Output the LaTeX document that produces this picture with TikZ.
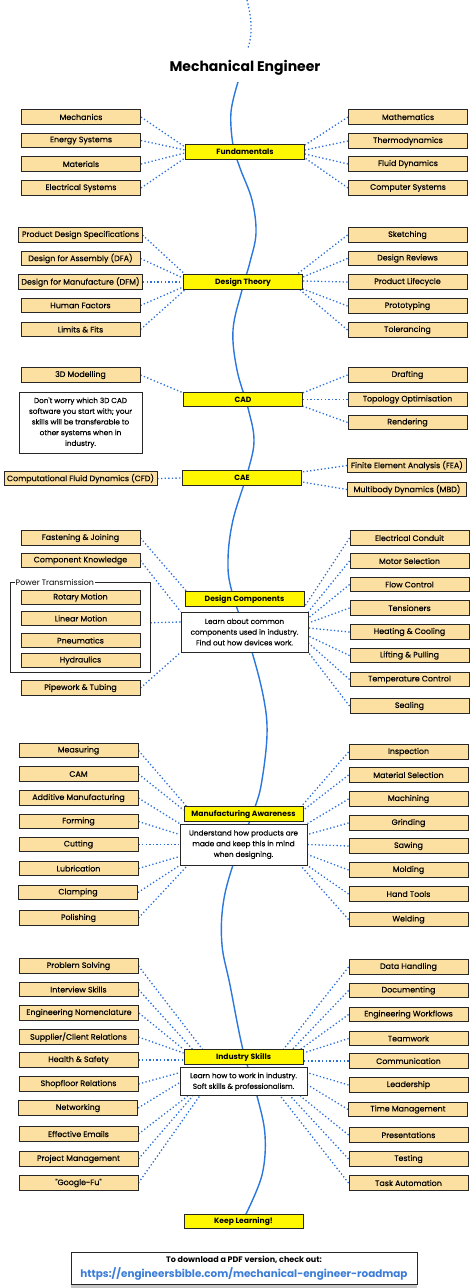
\documentclass[tikz,border=0pt]{standalone}
\usepackage{fontspec}
\setmainfont{Poppins}
\newfontfamily\itemfont{Poppins}[FakeBold=0.25]
\usetikzlibrary{backgrounds,calc}
\definecolor{boxtan}{HTML}{FCE0A2}
\definecolor{topicy}{HTML}{FFF700}
\definecolor{lblue}{HTML}{2B6FD8}
\definecolor{cblue}{HTML}{2A78DE}
\definecolor{urlblue}{HTML}{3B7DD8}
\newcommand\mylink[2]{\draw[link] (#1) -- (#2);}
\begin{document}
\begin{tikzpicture}[x=1pt,y=-1pt,
  item/.style={draw=black!85, line width=0.9pt, fill=boxtan, minimum width=119pt, minimum height=14.5pt, inner xsep=3pt, inner ysep=1pt, font=\itemfont\fontsize{7.9}{9}\selectfont},
  topic/.style={draw=black!85, line width=0.9pt, fill=topicy, minimum width=119pt, minimum height=14.5pt, inner sep=1pt, font=\fontsize{7.6}{9}\selectfont\bfseries},
  note/.style={draw=black!85, line width=0.9pt, fill=white, align=center, inner sep=1pt, font=\itemfont\fontsize{7.3}{10.7}\selectfont},
  link/.style={draw=lblue, line width=1.3pt, dash pattern=on 1.3pt off 2.3pt},
  spine/.style={draw=cblue, line width=1.4pt}
]
\useasboundingbox (0,0) rectangle (474,1288);

% title
\node[font=\fontsize{14}{16}\selectfont\bfseries] (title) at (245,68) {Mechanical Engineer};
\coordinate (topstart) at (247,0);
\coordinate (topend) at (248,48);

% ---------- Fundamentals
\node[topic] (fund) at (245,152) {Fundamentals};
\node[item] (mech) at (81,117) {Mechanics};
\node[item] (energy) at (81,140.5) {Energy Systems};
\node[item] (mat) at (81,164) {Materials};
\node[item] (elec) at (81,188) {Electrical Systems};
\node[item] (math) at (408,117) {Mathematics};
\node[item] (thermo) at (408,141) {Thermodynamics};
\node[item] (fluid) at (408,164) {Fluid Dynamics};
\node[item] (comp) at (408,188) {Computer Systems};

% ---------- Design Theory
\node[topic] (dt) at (243,282) {Design Theory};
\node[item] (pds) at (80.5,235) {Product Design Specifications};
\node[item] (dfa) at (80.5,258.5) {Design for Assembly (DFA)};
\node[item] (dfm) at (80.5,282) {Design for Manufacture (DFM)};
\node[item] (hf) at (80.5,305.5) {Human Factors};
\node[item] (lf) at (80.5,329.5) {Limits \& Fits};
\node[item] (sketch) at (407.5,235) {Sketching};
\node[item] (drev) at (407.5,258.5) {Design Reviews};
\node[item] (plc) at (407.5,282) {Product Lifecycle};
\node[item] (proto) at (407.5,306) {Prototyping};
\node[item] (tol) at (407.5,330) {Tolerancing};

% ---------- CAD
\node[topic] (cad) at (243,399.5) {CAD};
\node[item] (model) at (80.5,375) {3D Modelling};
\node[note, minimum width=123pt, minimum height=61pt] (cadnote) at (80.5,422.5) {Don't worry which 3D CAD\\software you start with; your\\skills will be transferable to\\other systems when in\\industry.};
\node[item] (draft) at (407.5,375) {Drafting};
\node[item] (topo) at (407.5,399.5) {Topology Optimisation};
\node[item] (render) at (407.5,422.5) {Rendering};

% ---------- CAE
\node[topic] (cae) at (242,478) {CAE};
\node[item] (cfd) at (80.5,478.5) {Computational Fluid Dynamics (CFD)};
\node[item] (fea) at (407,465.5) {Finite Element Analysis (FEA)};
\node[item] (mbd) at (407,489.5) {Multibody Dynamics (MBD)};

% ---------- Design Components
\node[topic] (dc) at (244.5,599) {Design Components};
\node[note, minimum width=127pt, minimum height=40pt] (dcnote) at (244.5,632) {Learn about common\\components used in industry.\\Find out how devices work.};
\node[item] (fast) at (80.5,538) {Fastening \& Joining};
\node[item] (ck) at (80.5,560.5) {Component Knowledge};
\node[draw=black!85, line width=0.9pt, minimum width=140pt, minimum height=90pt, inner sep=0pt] (pt) at (80,627.7) {};
\node[fill=white, inner sep=1pt, anchor=west, font=\fontsize{7.9}{9}\selectfont] (ptlabel) at ([xshift=5pt]pt.north west) {Power Transmission};
\node[item] (rot) at (80.5,597.5) {Rotary Motion};
\node[item] (lin) at (81,618.5) {Linear Motion};
\node[item] (pneu) at (80.5,640.5) {Pneumatics};
\node[item] (hyd) at (80.5,660.5) {Hydraulics};
\node[item] (pipe) at (80.5,688) {Pipework \& Tubing};
\node[item] (econd) at (409.5,538) {Electrical Conduit};
\node[item] (motor) at (409.5,561) {Motor Selection};
\node[item] (flow) at (409.5,584.5) {Flow Control};
\node[item] (tens) at (409.5,608) {Tensioners};
\node[item] (heat) at (409.5,632) {Heating \& Cooling};
\node[item] (lift) at (409.5,655.5) {Lifting \& Pulling};
\node[item] (temp) at (409.5,679.5) {Temperature Control};
\node[item] (seal) at (409.5,706) {Sealing};

% ---------- Manufacturing Awareness
\node[topic] (ma) at (243.5,814) {Manufacturing Awareness};
\node[note, minimum width=127pt, minimum height=41pt] (manote) at (243.5,844.5) {Understand how products are\\made and keep this in mind\\when designing.};
\node[item] (meas) at (78.5,750.5) {Measuring};
\node[item] (cam) at (78.5,774) {CAM};
\node[item] (add) at (78.5,798) {Additive Manufacturing};
\node[item] (form) at (78.5,821.5) {Forming};
\node[item] (cut) at (78.5,844.5) {Cutting};
\node[item] (lub) at (78.5,868.5) {Lubrication};
\node[item] (clamp) at (78,892.5) {Clamping};
\node[item] (pol) at (78.5,918) {Polishing};
\node[item] (insp) at (408.5,752) {Inspection};
\node[item] (msel) at (408.5,775) {Material Selection};
\node[item] (mach) at (408.5,799) {Machining};
\node[item] (grind) at (408.5,823) {Grinding};
\node[item] (saw) at (408.5,846) {Sawing};
\node[item] (mold) at (408.5,870) {Molding};
\node[item] (hand) at (408.5,894) {Hand Tools};
\node[item] (weld) at (408.5,919.5) {Welding};

% ---------- Industry Skills
\node[topic] (is) at (243.5,1057) {Industry Skills};
\node[note, minimum width=127pt, minimum height=28pt] (isnote) at (243.5,1081.7) {Learn how to work in industry.\\Soft skills \& professionalism.};
\node[item] (ps) at (78.5,966) {Problem Solving};
\node[item] (inter) at (78.5,989.5) {Interview Skills};
\node[item] (nom) at (79,1013) {Engineering Nomenclature};
\node[item] (supp) at (78.5,1037) {Supplier/Client Relations};
\node[item] (hs) at (78.5,1060) {Health \& Safety};
\node[item] (shop) at (78.5,1084) {Shopfloor Relations};
\node[item] (net) at (78,1108) {Networking};
\node[item] (mail) at (78.5,1134) {Effective Emails};
\node[item] (pm) at (78.5,1159) {Project Management};
\node[item] (goog) at (78.5,1183) {"Google-Fu"};
\node[item] (data) at (408.5,967) {Data Handling};
\node[item] (doc) at (408.5,990.5) {Documenting};
\node[item] (wf) at (408.5,1014.5) {Engineering Workflows};
\node[item] (team) at (408.5,1038.5) {Teamwork};
\node[item] (commu) at (408.5,1061) {Communication};
\node[item] (lead) at (408.5,1085) {Leadership};
\node[item] (time) at (408,1109.5) {Time Management};
\node[item] (pres) at (408.5,1135) {Presentations};
\node[item] (test) at (408.5,1159) {Testing};
\node[item] (task) at (408.5,1183) {Task Automation};

% ---------- Keep learning
\node[topic] (keep) at (243.5,1221.5) {Keep Learning!};

% ---------- footer
\fill[gray!45] (71,1283) rectangle (417,1288);
\node[draw=black!85, line width=0.9pt, fill=white, minimum width=346pt, minimum height=32pt, inner sep=0pt] (foot) at (244,1268) {};
\node[font=\fontsize{8}{9}\selectfont\bfseries] (foot1) at (244,1260) {To download a PDF version, check out:};
\node[font=\fontsize{10.4}{12}\selectfont\bfseries, text=urlblue] (foot2) at (244,1274) {https://engineersbible.com/mechanical-engineer-roadmap};

\begin{pgfonlayer}{background}
% spine
\draw[link] (topstart) .. controls (250,12) and (254,30) .. (topend);
\draw[spine] plot[smooth, tension=0.6] coordinates {(238,82) (231,112) (233,145) (240,168) (252,200) (256,233) (250,262) (242,290) (233,330) (237,370) (248,408) (254,440) (248,471) (233,520) (228,560) (232,592) (252,652) (264,700) (267,735) (262,780) (255,807) (233,865) (223,905) (222,945) (230,985) (243,1050) (257,1096) (265,1135) (262,1175) (246,1214)};

% fundamentals
\mylink{mech.east}{[yshift=5pt]fund.west}
\mylink{energy.east}{[yshift=2pt]fund.west}
\mylink{mat.east}{[yshift=-1pt]fund.west}
\mylink{elec.east}{[yshift=-6pt]fund.west}
\mylink{math.west}{[yshift=7pt]fund.east}
\mylink{thermo.west}{[yshift=2pt]fund.east}
\mylink{fluid.west}{[yshift=-2pt]fund.east}
\mylink{comp.west}{[yshift=-6pt]fund.east}

% design theory
\mylink{pds.east}{[xshift=2pt]dt.north west}
\mylink{dfa.east}{[yshift=4pt]dt.west}
\mylink{dfm.east}{dt.west}
\mylink{hf.east}{[yshift=-5pt]dt.west}
\mylink{lf.east}{[xshift=2pt]dt.south west}
\mylink{sketch.west}{[xshift=-6pt]dt.north east}
\mylink{drev.west}{[yshift=5pt]dt.east}
\mylink{plc.west}{[yshift=1pt]dt.east}
\mylink{proto.west}{[yshift=-7pt]dt.east}
\mylink{tol.west}{[xshift=-3pt]dt.south east}

% cad
\mylink{model.east}{[yshift=-1pt]cad.north west}
\mylink{draft.west}{[yshift=-1pt]cad.north east}
\mylink{topo.west}{cad.east}
\mylink{render.west}{[yshift=1pt]cad.south east}

% cae
\mylink{cfd.east}{cae.west}
\mylink{fea.west}{[yshift=6pt]cae.east}
\mylink{mbd.west}{[yshift=-4pt]cae.east}

% design components
\mylink{fast.east}{[xshift=2pt]dc.north west}
\mylink{ck.east}{dcnote.north west}
\mylink{[yshift=5pt]pt.east}{[yshift=10pt]dcnote.west}
\mylink{pipe.east}{dcnote.south west}
\mylink{econd.west}{dc.south east}
\mylink{motor.west}{dcnote.north east}
\mylink{flow.west}{[yshift=14pt]dcnote.east}
\mylink{tens.west}{[yshift=9pt]dcnote.east}
\mylink{heat.west}{[yshift=4pt]dcnote.east}
\mylink{lift.west}{[yshift=-4pt]dcnote.east}
\mylink{temp.west}{[yshift=-11pt]dcnote.east}
\mylink{seal.west}{dcnote.south east}

% manufacturing awareness
\mylink{meas.east}{[xshift=3pt]ma.north west}
\mylink{cam.east}{[yshift=4pt]ma.west}
\mylink{add.east}{manote.north west}
\mylink{form.east}{[yshift=10pt]manote.west}
\mylink{cut.east}{manote.west}
\mylink{lub.east}{[yshift=-12pt]manote.west}
\mylink{clamp.east}{manote.south west}
\mylink{pol.east}{[xshift=8pt]manote.south west}
\mylink{insp.west}{[xshift=-2pt]ma.north east}
\mylink{msel.west}{[yshift=4pt]ma.east}
\mylink{mach.west}{manote.north east}
\mylink{grind.west}{[yshift=10pt]manote.east}
\mylink{saw.west}{manote.east}
\mylink{mold.west}{[yshift=-10pt]manote.east}
\mylink{hand.west}{manote.south east}
\mylink{weld.west}{[xshift=-7pt]manote.south east}

% industry skills
\mylink{ps.east}{[xshift=19pt]is.north west}
\mylink{inter.east}{[xshift=9pt]is.north west}
\mylink{nom.east}{is.north west}
\mylink{supp.east}{[yshift=4pt]is.west}
\mylink{hs.east}{[yshift=-3pt]is.west}
\mylink{shop.east}{[yshift=9pt]isnote.west}
\mylink{net.east}{[yshift=-1pt]isnote.west}
\mylink{mail.east}{[xshift=8pt]isnote.south west}
\mylink{pm.east}{[xshift=13pt]isnote.south west}
\mylink{goog.east}{[xshift=20pt]isnote.south west}
\mylink{data.west}{[xshift=-20pt]is.north east}
\mylink{doc.west}{[xshift=-11pt]is.north east}
\mylink{wf.west}{[xshift=-3pt]is.north east}
\mylink{team.west}{[yshift=4pt]is.east}
\mylink{commu.west}{[yshift=-4pt]is.east}
\mylink{lead.west}{[yshift=9pt]isnote.east}
\mylink{time.west}{[yshift=-3pt]isnote.east}
\mylink{pres.west}{[xshift=-7pt]isnote.south east}
\mylink{test.west}{[xshift=-17pt]isnote.south east}
\mylink{task.west}{[xshift=-27pt]isnote.south east}
\end{pgfonlayer}
\end{tikzpicture}
\end{document}
